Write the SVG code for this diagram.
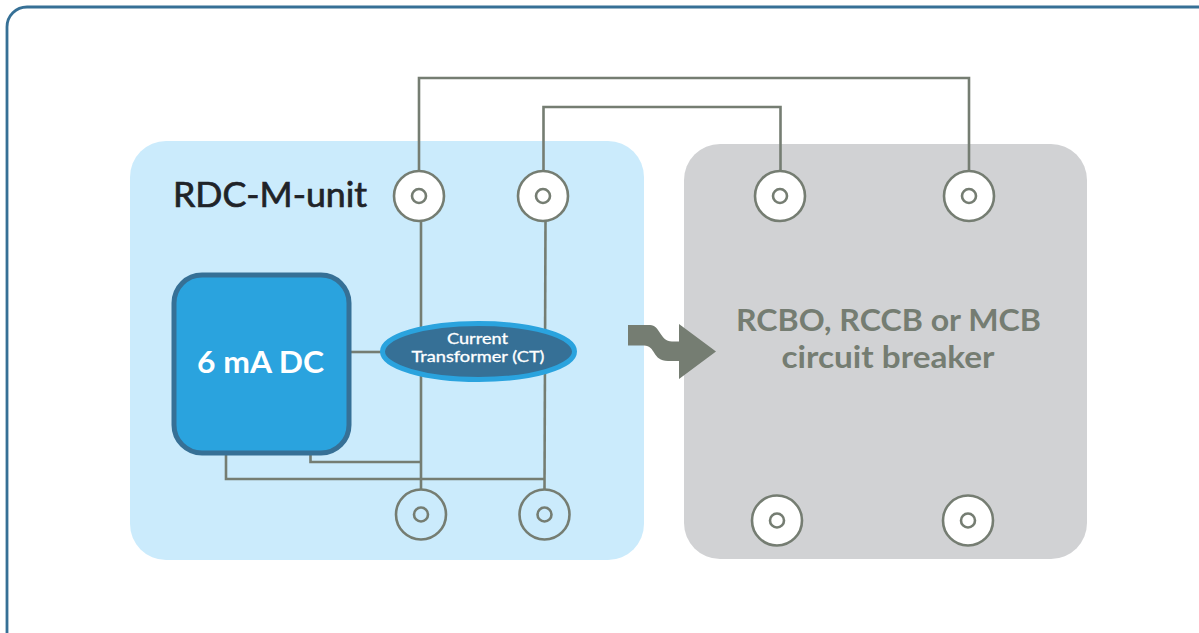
<svg xmlns="http://www.w3.org/2000/svg" width="1199" height="633" viewBox="0 0 1199 633">
<style>
.w{fill:none;stroke:#757d72;stroke-width:2.6}
.t{fill:#fff;stroke:#757d72;stroke-width:2.6}
.o{fill:none;stroke:#757d72;stroke-width:2.6}
text{font-family:"Lato","Open Sans","Liberation Sans",sans-serif;text-anchor:middle}
</style>
<rect x="0" y="0" width="1199" height="633" fill="#fff"/>
<rect x="7" y="7" width="1240" height="680" rx="20" fill="none" stroke="#367096" stroke-width="2.8"/>
<g id="rdc-unit"><rect x="130" y="141" width="514" height="419" rx="36" fill="#cbebfc"/>
<text x="270" y="207" font-size="34" fill="#1f2328" stroke="#1f2328" stroke-width="0.7" textLength="194" lengthAdjust="spacingAndGlyphs">RDC-M-unit</text></g>
<g id="breaker"><rect x="684" y="144" width="403" height="415" rx="36" fill="#d1d2d4"/>
<text x="888.500" y="331" font-size="31" font-weight="700" fill="#757d72" textLength="305" lengthAdjust="spacingAndGlyphs">RCBO, RCCB or MCB</text>
<text x="888" y="368" font-size="31" font-weight="700" fill="#757d72" textLength="213" lengthAdjust="spacingAndGlyphs">circuit breaker</text></g>
<g id="connectors">
<path class="w" d="M419 170V78H969V170"/>
<path class="w" d="M543.500 170V107H780.500V170"/>
<path class="w" d="M421 221V490"/>
<path class="w" d="M545.500 221 544.500 490"/>
<path class="w" d="M350 352H382"/>
<path class="w" d="M226 454V479H544"/>
<path class="w" d="M310.500 454V462H421"/>
</g>
<g id="arrow"><path d="M628 325H650C660 325 660 341.500 672 341.500H679V324L716 351.500 679 379V361H668C652 361 656 345.500 644 345.500H628Z" fill="#757d72"/></g>
<g id="term-1"><circle class="t" cx="419" cy="196" r="25"/><circle class="o" cx="419" cy="196" r="7"/></g>
<g id="term-2"><circle class="t" cx="543" cy="196" r="25"/><circle class="o" cx="543" cy="196" r="7"/></g>
<g id="term-3"><circle class="t" cx="780" cy="196" r="25"/><circle class="o" cx="780" cy="196" r="7"/></g>
<g id="term-4"><circle class="t" cx="969" cy="196" r="25"/><circle class="o" cx="969" cy="196" r="7"/></g>
<g id="term-5"><circle class="o" cx="421" cy="514.500" r="25"/><circle class="o" cx="421" cy="514.500" r="7"/></g>
<g id="term-6"><circle class="o" cx="544.500" cy="514.500" r="25"/><circle class="o" cx="544.500" cy="514.500" r="7"/></g>
<g id="term-7"><circle class="t" cx="777" cy="520.500" r="25"/><circle class="o" cx="777" cy="520.500" r="7"/></g>
<g id="term-8"><circle class="t" cx="968" cy="520.500" r="25"/><circle class="o" cx="968" cy="520.500" r="7"/></g>
<g id="source"><rect x="174" y="275" width="175" height="178" rx="28" fill="#2aa3de" stroke="#367096" stroke-width="5"/>
<text x="260.500" y="373" font-size="31" font-weight="700" fill="#fff" textLength="127" lengthAdjust="spacingAndGlyphs">6 mA DC</text></g>
<g id="ct"><ellipse cx="478.500" cy="351.500" rx="96" ry="28" fill="#367096" stroke="#2aa3de" stroke-width="5"/>
<text x="477.500" y="344" font-size="15" fill="#fff" stroke="#fff" stroke-width="0.3" textLength="61" lengthAdjust="spacingAndGlyphs">Current</text>
<text x="478" y="362" font-size="15" fill="#fff" stroke="#fff" stroke-width="0.3" textLength="133" lengthAdjust="spacingAndGlyphs">Transformer (CT)</text></g>
</svg>
